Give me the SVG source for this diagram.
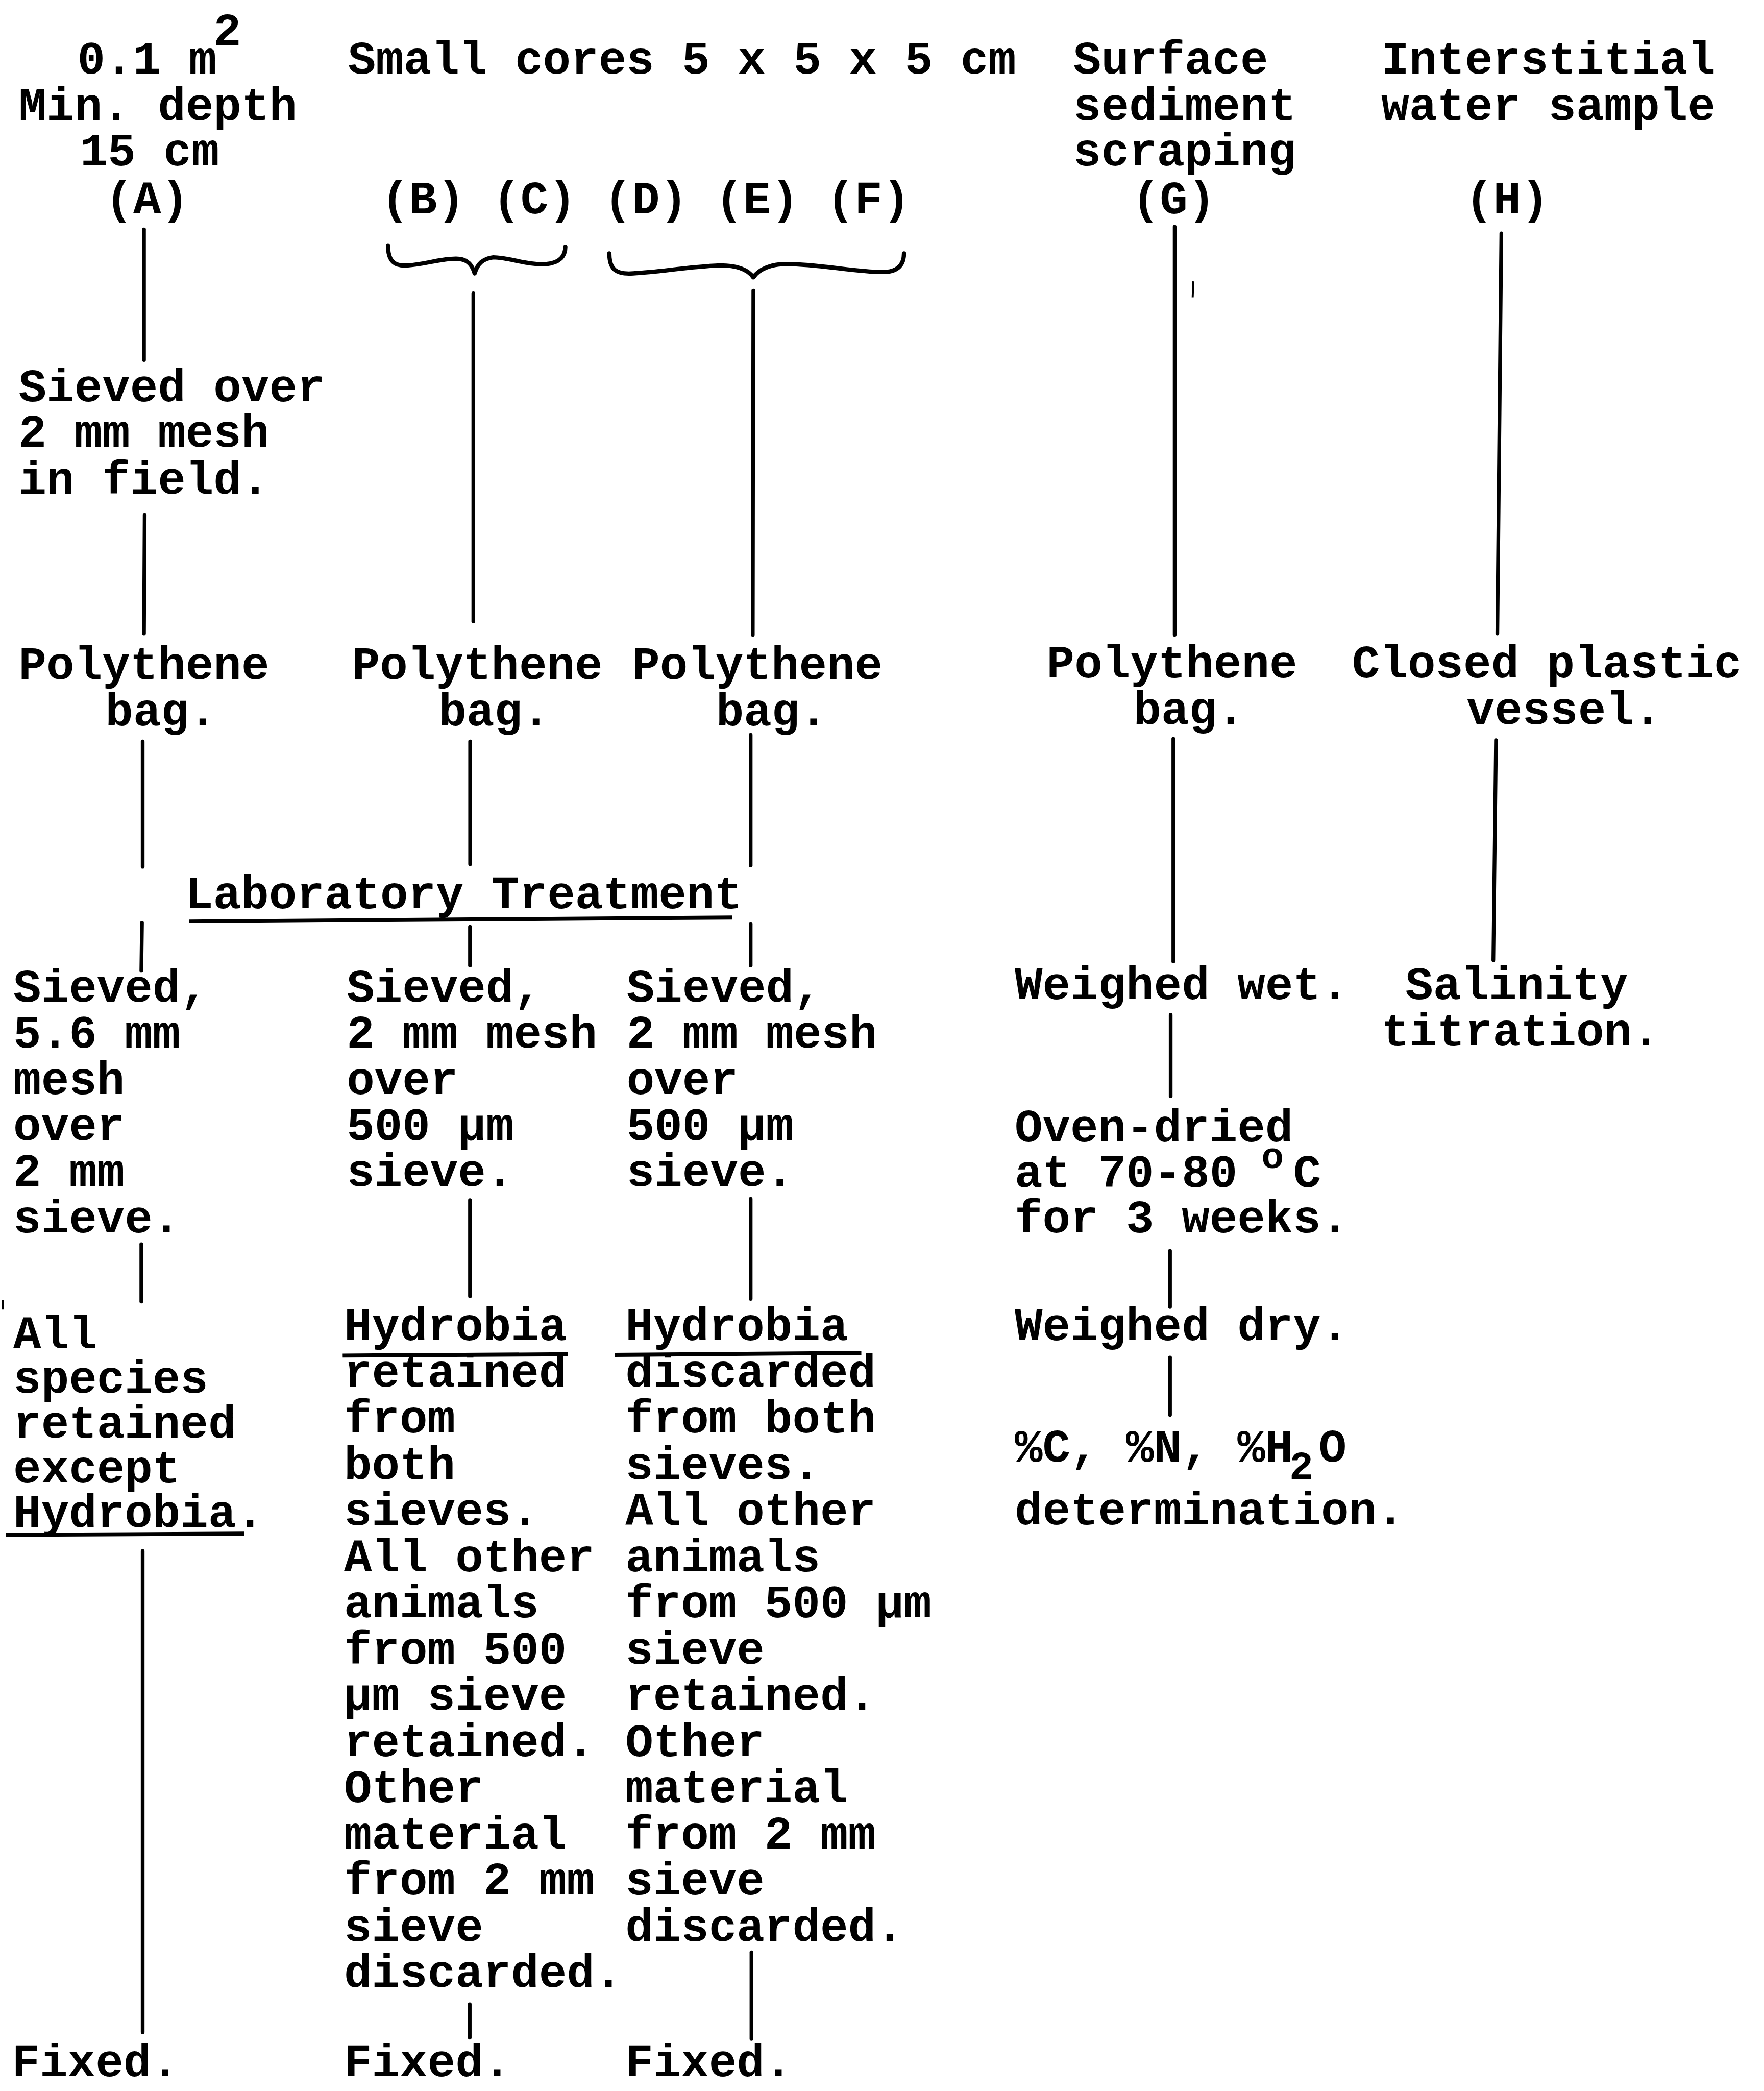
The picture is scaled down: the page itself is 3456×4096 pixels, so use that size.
<svg xmlns="http://www.w3.org/2000/svg" width="3456" height="4096" viewBox="0 0 3456 4096">
<style>
.t{font-family:"Liberation Mono","Courier New",monospace;font-size:34.8px;font-weight:bold;fill:#000}
.sup{font-size:28px}
.sub{font-size:30px}
.c{stroke:#000;stroke-width:2.8;fill:none;stroke-linecap:round}
.u{stroke:#000;stroke-width:3;fill:none}
.br{stroke:#000;stroke-width:3.2;fill:none;stroke-linecap:round;stroke-linejoin:round}
.dot{stroke:#000;stroke-width:1.5;fill:none}
</style>
<rect width="3456" height="4096" fill="#fff"/>
<g transform="scale(2.61224)">
<g id="connectors">
  <line class="c" x1="108" y1="172" x2="108" y2="270"/>
  <line class="c" x1="108.5" y1="386" x2="108" y2="475"/>
  <line class="c" x1="107" y1="556" x2="107" y2="650"/>
  <line class="c" x1="106.5" y1="692" x2="106" y2="728"/>
  <line class="c" x1="106" y1="933" x2="106" y2="976"/>
  <line class="c" x1="107" y1="1163" x2="107" y2="1524"/>
  <line class="c" x1="355" y1="220" x2="355" y2="466"/>
  <line class="c" x1="352.6" y1="556" x2="352.6" y2="648"/>
  <line class="c" x1="352.5" y1="695" x2="352.5" y2="724"/>
  <line class="c" x1="352.5" y1="900" x2="352.5" y2="972"/>
  <line class="c" x1="352.3" y1="1503" x2="352.3" y2="1528"/>
  <line class="c" x1="565" y1="218" x2="564.6" y2="476"/>
  <line class="c" x1="563" y1="551" x2="563" y2="649"/>
  <line class="c" x1="563" y1="693" x2="563" y2="724"/>
  <line class="c" x1="563" y1="899" x2="563" y2="974"/>
  <line class="c" x1="563.6" y1="1464" x2="563.6" y2="1529"/>
  <line class="c" x1="881" y1="170" x2="881" y2="476"/>
  <line class="c" x1="880" y1="554" x2="880" y2="721"/>
  <line class="c" x1="878" y1="761" x2="878" y2="822"/>
  <line class="c" x1="877.5" y1="938" x2="877.5" y2="980"/>
  <line class="c" x1="877.5" y1="1018" x2="877.5" y2="1061"/>
  <line class="c" x1="1126" y1="175" x2="1123" y2="475"/>
  <line class="c" x1="1122" y1="555" x2="1120" y2="720"/>
  <line class="dot" x1="895" y1="211" x2="894.5" y2="223"/>
  <line class="dot" x1="2" y1="975" x2="2" y2="982"/>
</g>
<g id="nodeA-top">
  <text class="t" x="58" y="55">0.1 m</text>
  <text class="t" x="160" y="34">2</text>
  <text class="t" x="14" y="90">Min. depth</text>
  <text class="t" x="60" y="124">15 cm</text>
  <text class="t" x="79" y="160">(A)</text>
</g>
<g id="header-small-cores">
  <text class="t" x="261" y="55">Small cores 5 x 5 x 5 cm</text>
</g>
<g id="nodeBC-top">
  <text class="t" x="286" y="160">(B) (C)</text>
  <path class="br" d="M291,184 C291,196 296,200 306,199 C320,198 330,194 342,194 C350,194 354,198 356,205 C358,198 362,194 370,193 C382,193 395,199 410,198 C420,197 424,192 424,185"/>
</g>
<g id="nodeDEF-top">
  <text class="t" x="453" y="160">(D) (E) (F)</text>
  <path class="br" d="M457,190 C457,202 462,206 475,205 C495,204 515,200 540,199 C552,199 561,202 565,208 C569,202 578,198 590,198 C615,198 640,204 662,204 C674,204 678,198 678,190"/>
</g>
<g id="nodeG-top">
  <text class="t" x="805" y="55">Surface</text>
  <text class="t" x="805" y="90">sediment</text>
  <text class="t" x="805" y="124">scraping</text>
  <text class="t" x="849" y="160">(G)</text>
</g>
<g id="nodeH-top">
  <text class="t" x="1036" y="55">Interstitial</text>
  <text class="t" x="1036" y="90">water sample</text>
  <text class="t" x="1099" y="160">(H)</text>
</g>
<g id="nodeA-sieved-field">
  <text class="t" x="14" y="301">Sieved over</text>
  <text class="t" x="14" y="335">2 mm mesh</text>
  <text class="t" x="14" y="370">in field.</text>
</g>
<g id="nodeA-bag">
  <text class="t" x="14" y="509">Polythene</text>
  <text class="t" x="79" y="544">bag.</text>
</g>
<g id="nodeBC-bag">
  <text class="t" x="264" y="509">Polythene</text>
  <text class="t" x="329" y="544">bag.</text>
</g>
<g id="nodeDEF-bag">
  <text class="t" x="474" y="509">Polythene</text>
  <text class="t" x="537" y="544">bag.</text>
</g>
<g id="nodeG-bag">
  <text class="t" x="785" y="508">Polythene</text>
  <text class="t" x="850" y="543">bag.</text>
</g>
<g id="nodeH-vessel">
  <text class="t" x="1014" y="508">Closed plastic</text>
  <text class="t" x="1100" y="543">vessel.</text>
</g>
<g id="lab-treatment">
  <text class="t" x="139" y="681">Laboratory Treatment</text>
  <line class="u" x1="142" y1="691" x2="549" y2="688"/>
</g>
<g id="nodeA-lab-sieve">
  <text class="t" x="10" y="751">Sieved,</text>
  <text class="t" x="10" y="785.6">5.6 mm</text>
  <text class="t" x="10" y="820.2">mesh</text>
  <text class="t" x="10" y="854.8">over</text>
  <text class="t" x="10" y="889.4">2 mm</text>
  <text class="t" x="10" y="924">sieve.</text>
</g>
<g id="nodeBC-lab-sieve">
  <text class="t" x="260" y="751">Sieved,</text>
  <text class="t" x="260" y="785.6">2 mm mesh</text>
  <text class="t" x="260" y="820.2">over</text>
  <text class="t" x="260" y="854.8">500 µm</text>
  <text class="t" x="260" y="889.4">sieve.</text>
</g>
<g id="nodeDEF-lab-sieve">
  <text class="t" x="470" y="751">Sieved,</text>
  <text class="t" x="470" y="785.6">2 mm mesh</text>
  <text class="t" x="470" y="820.2">over</text>
  <text class="t" x="470" y="854.8">500 µm</text>
  <text class="t" x="470" y="889.4">sieve.</text>
</g>
<g id="nodeG-wet">
  <text class="t" x="761" y="749">Weighed wet.</text>
</g>
<g id="nodeH-salinity">
  <text class="t" x="1054" y="749">Salinity</text>
  <text class="t" x="1036" y="784">titration.</text>
</g>
<g id="nodeG-oven">
  <text class="t" x="761" y="856">Oven-dried</text>
  <text class="t" x="761" y="890">at 70-80</text>
  <text class="t sup" x="946" y="876">o</text>
  <text class="t" x="970" y="890">C</text>
  <text class="t" x="761" y="924">for 3 weeks.</text>
</g>
<g id="nodeG-dry">
  <text class="t" x="761" y="1005">Weighed dry.</text>
</g>
<g id="nodeG-determination">
  <text class="t" x="761" y="1096">%C, %N, %H</text>
  <text class="t sub" x="967" y="1109">2</text>
  <text class="t" x="989" y="1096">O</text>
  <text class="t" x="761" y="1143">determination.</text>
</g>
<g id="nodeA-species">
  <text class="t" x="10" y="1011">All</text>
  <text class="t" x="10" y="1044.5">species</text>
  <text class="t" x="10" y="1078">retained</text>
  <text class="t" x="10" y="1111.5">except</text>
  <text class="t" x="10" y="1145">Hydrobia.</text>
  <line class="u" x1="4.6" y1="1151" x2="183" y2="1150"/>
</g>
<g id="nodeBC-hydrobia">
  <text class="t" x="258" y="1005">Hydrobia</text>
  <line class="u" x1="257" y1="1016.5" x2="426" y2="1015.5"/>
  <text class="t" x="258" y="1039.6">retained</text>
  <text class="t" x="258" y="1074.3">from</text>
  <text class="t" x="258" y="1108.9">both</text>
  <text class="t" x="258" y="1143.6">sieves.</text>
  <text class="t" x="258" y="1178.2">All other</text>
  <text class="t" x="258" y="1212.8">animals</text>
  <text class="t" x="258" y="1247.5">from 500</text>
  <text class="t" x="258" y="1282.1">µm sieve</text>
  <text class="t" x="258" y="1316.8">retained.</text>
  <text class="t" x="258" y="1351.4">Other</text>
  <text class="t" x="258" y="1386">material</text>
  <text class="t" x="258" y="1420.7">from 2 mm</text>
  <text class="t" x="258" y="1455.3">sieve</text>
  <text class="t" x="258" y="1490">discarded.</text>
</g>
<g id="nodeDEF-hydrobia">
  <text class="t" x="469" y="1005">Hydrobia</text>
  <line class="u" x1="461" y1="1016" x2="646" y2="1014.5"/>
  <text class="t" x="469" y="1039.6">discarded</text>
  <text class="t" x="469" y="1074.3">from both</text>
  <text class="t" x="469" y="1108.9">sieves.</text>
  <text class="t" x="469" y="1143.6">All other</text>
  <text class="t" x="469" y="1178.2">animals</text>
  <text class="t" x="469" y="1212.8">from 500 µm</text>
  <text class="t" x="469" y="1247.5">sieve</text>
  <text class="t" x="469" y="1282.1">retained.</text>
  <text class="t" x="469" y="1316.8">Other</text>
  <text class="t" x="469" y="1351.4">material</text>
  <text class="t" x="469" y="1386">from 2 mm</text>
  <text class="t" x="469" y="1420.7">sieve</text>
  <text class="t" x="469" y="1455.3">discarded.</text>
</g>
<g id="nodeA-fixed">
  <text class="t" x="9" y="1557">Fixed.</text>
</g>
<g id="nodeBC-fixed">
  <text class="t" x="258" y="1557">Fixed.</text>
</g>
<g id="nodeDEF-fixed">
  <text class="t" x="469" y="1557">Fixed.</text>
</g>
</g>
</svg>
